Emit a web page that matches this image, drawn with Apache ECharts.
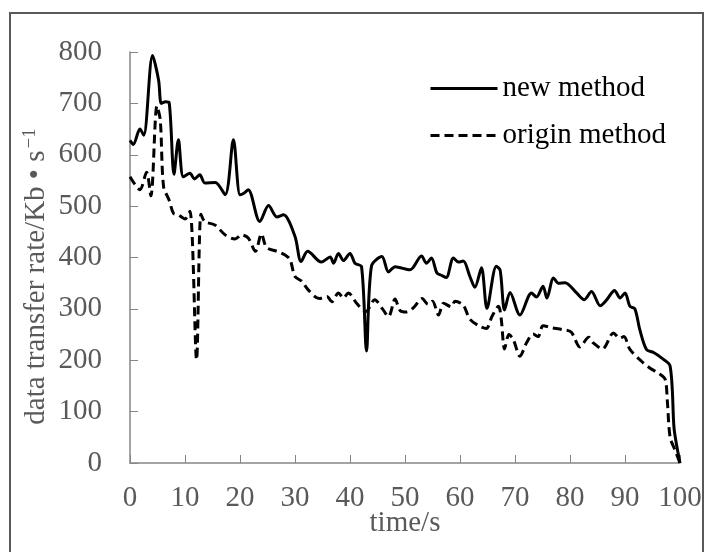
<!DOCTYPE html>
<html>
<head>
<meta charset="utf-8">
<script src="https://cdn.jsdelivr.net/npm/echarts@6/dist/echarts.min.js"></script>
<style>
  html, body { margin: 0; padding: 0; background: #fff; }
  #chart { width: 707px; height: 552px; }
</style>
</head>
<body>
<div id="chart"></div>
<script>
// 数据：时间(s) 与 传输速率(Kb/s)
var newTime = [0, 0.6, 1.8, 2.5, 4.1, 5.2, 5.7, 6.5, 7.1, 8.0, 8.8, 9.7, 10.9, 11.7, 12.7, 13.6, 15.5, 17.3, 18.8, 20.0, 20.7, 21.5, 23.6, 25.2, 26.7, 27.9, 30.0, 31.1, 32.3, 34.8, 36.4, 37.0, 37.9, 38.8, 40.0, 40.9, 42.1, 43.0, 43.9, 45.8, 47.0, 48.2, 50.9, 53.0, 53.9, 54.8, 55.8, 56.7, 57.5, 58.8, 59.7, 60.6, 61.8, 62.7, 63.9, 64.9, 66.6, 67.3, 68.1, 69.1, 70.9, 73.0, 73.9, 75.1, 75.8, 77.0, 77.9, 79.1, 81.2, 82.6, 83.9, 85.5, 86.7, 88.1, 89.1, 90.0, 90.9, 91.8, 92.7, 93.9, 95.2, 96.7, 98.2, 98.9, 99.3, 100];
var newRate = [628, 620, 650, 638, 793, 745, 700, 703, 702, 562, 629, 557, 564, 553, 561, 545, 546, 522, 629, 522, 525, 532, 470, 501, 479, 483, 441, 392, 412, 391, 401, 389, 408, 394, 408, 389, 382, 218, 383, 402, 372, 382, 376, 403, 389, 399, 370, 365, 361, 399, 391, 393, 363, 342, 380, 301, 383, 375, 298, 332, 288, 331, 323, 344, 321, 360, 350, 351, 331, 318, 334, 306, 318, 336, 321, 331, 305, 300, 259, 221, 215, 204, 189, 70, 40, 0];

var originTime = [0, 1.8, 3.0, 3.8, 4.9, 5.5, 6.1, 7.1, 7.9, 8.8, 10.0, 10.9, 12.1, 12.9, 13.6, 15.5, 17.3, 19.1, 20.3, 21.5, 22.8, 23.9, 24.8, 26.7, 28.2, 29.1, 30.0, 31.2, 32.4, 34.4, 35.8, 36.7, 37.9, 38.8, 39.7, 41.2, 42.9, 44.5, 45.9, 47.0, 48.2, 49.1, 50.3, 51.6, 53.1, 54.2, 55.0, 56.1, 57.0, 58.4, 59.1, 60.6, 61.8, 63.6, 64.8, 65.8, 67.0, 67.5, 68.1, 68.9, 69.7, 70.9, 72.1, 73.3, 74.2, 75.1, 76.8, 78.5, 80.2, 81.8, 83.4, 84.2, 85.9, 87.9, 89.0, 89.8, 90.9, 93.0, 94.5, 96.2, 97.3, 97.7, 98.2, 99.1, 100];
var originRate = [557, 532, 566, 520, 695, 668, 538, 512, 486, 483, 475, 490, 201, 484, 470, 463, 444, 436, 444, 438, 412, 446, 420, 412, 405, 396, 363, 354, 337, 320, 324, 314, 331, 321, 331, 311, 295, 318, 300, 285, 319, 297, 294, 303, 320, 309, 315, 288, 311, 304, 315, 307, 280, 266, 262, 285, 305, 280, 222, 250, 240, 208, 234, 251, 246, 267, 263, 260, 255, 226, 245, 234, 222, 253, 243, 246, 221, 198, 185, 174, 163, 120, 50, 25, 0];

var seriesNames = ['new method', 'origin method'];

function pairs(xs, ys) {
  return xs.map(function (x, i) { return [x, ys[i]]; });
}

var myChart = echarts.init(document.getElementById('chart'));

var font = 'Liberation Serif';
var grayText = '#595959';
var fs = 29;

var option = {
  backgroundColor: '#fff',
  animation: false,
  textStyle: { fontFamily: font },
  graphic: [{
    type: 'rect',
    shape: { x: 10, y: 13, width: 693, height: 560 },
    style: { fill: 'none', stroke: '#595959', lineWidth: 2 },
    silent: true
  }],
  grid: { left: 130, right: 27, top: 52, bottom: 89 },
  legend: {
    orient: 'vertical',
    left: 424,
    top: 69,
    itemWidth: 67,
    itemHeight: 14,
    itemGap: 18,
    itemStyle: { opacity: 0 },
    lineStyle: { width: 3 },
    textStyle: { fontFamily: font, fontSize: fs, color: '#000', lineHeight: 28 },
    data: seriesNames
  },
  xAxis: {
    type: 'value',
    min: 0,
    max: 100,
    interval: 10,
    name: 'time/s',
    nameLocation: 'middle',
    nameGap: 46,
    nameMoveOverlap: false,
    nameTextStyle: { fontFamily: font, fontSize: fs, color: grayText },
    axisLine: { lineStyle: { color: '#868686', width: 1.5 } },
    axisTick: { inside: true, length: 8, lineStyle: { color: '#868686' } },
    axisLabel: { fontFamily: font, fontSize: fs, color: grayText, margin: 21 },
    splitLine: { show: false }
  },
  yAxis: {
    type: 'value',
    min: 0,
    max: 800,
    interval: 100,
    name: 'data transfer rate/Kb • s{sup|−1}',
    nameLocation: 'middle',
    nameGap: 78,
    nameRotate: 90,
    nameMoveOverlap: false,
    nameTextStyle: {
      fontFamily: font, fontSize: fs, color: grayText,
      padding: [0, 38, 0, 0],
      rich: {
        sup: { fontFamily: font, fontSize: 19, color: grayText, verticalAlign: 'top', padding: [0, 0, 12, 2] }
      }
    },
    axisLine: { show: true, lineStyle: { color: '#868686', width: 1.5 } },
    axisTick: { show: true, inside: true, length: 8, lineStyle: { color: '#868686' } },
    axisLabel: { fontFamily: font, fontSize: fs, color: grayText, margin: 28 },
    splitLine: { show: false }
  },
  series: [
    {
      name: seriesNames[0],
      type: 'line',
      data: pairs(newTime, newRate),
      smooth: 0.3,
      symbol: 'none',
      lineStyle: { color: '#000', width: 3 },
      itemStyle: { color: '#000' }
    },
    {
      name: seriesNames[1],
      type: 'line',
      data: pairs(originTime, originRate),
      smooth: 0.3,
      symbol: 'none',
      lineStyle: { color: '#000', width: 3, type: [9, 5] },
      itemStyle: { color: '#000' }
    }
  ]
};

myChart.setOption(option);
</script>
</body>
</html>
